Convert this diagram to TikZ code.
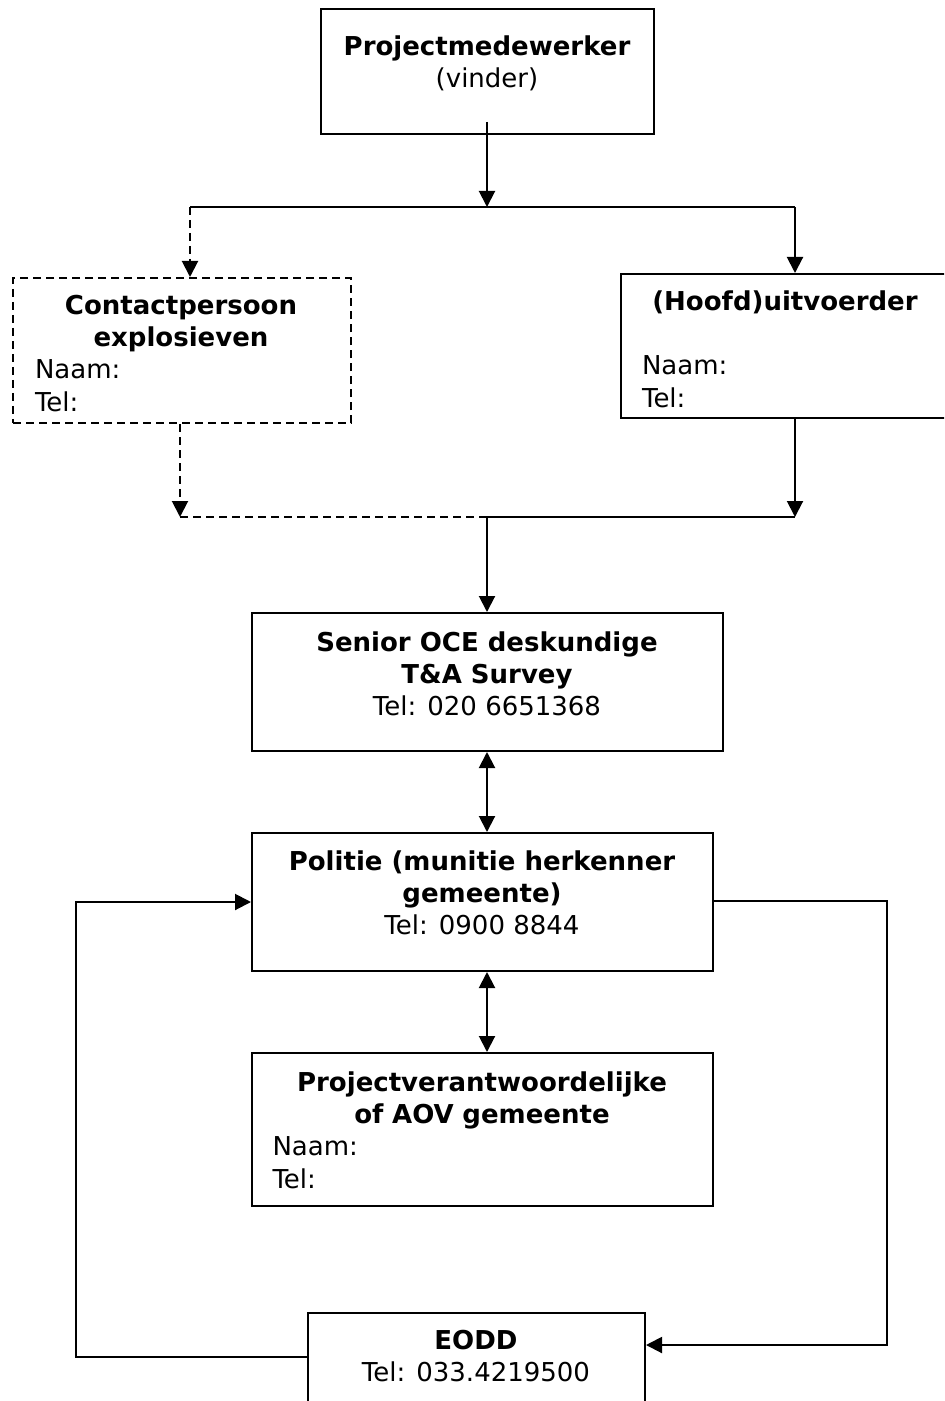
\documentclass[tikz,border=0pt]{standalone}
\usepackage{fontspec}
\setmainfont{DejaVu Sans}
\usetikzlibrary{arrows.meta}
\setlength{\parindent}{0pt}

\tikzset{
  box/.style={draw, line width=1pt, anchor=north west, inner sep=0pt},
  dashbox/.style={box, dash pattern=on 4pt off 2.5pt},
  txt/.style={anchor=north, inner sep=0pt, align=center,
    font=\fontsize{13}{16.2}\selectfont},
  line/.style={line width=1pt},
  tip/.tip={Triangle[length=8pt,width=8pt]},
  arr/.style={line, -tip},
  dblarr/.style={line, tip-tip},
  dashline/.style={dash pattern=on 4pt off 2.5pt}
}

\begin{document}
\begin{tikzpicture}[x=0.5pt, y=-0.5pt]
  \clip (0,0) rectangle (944,1401);
  \fill[white] (0,0) rectangle (944,1401);

  % boxes
  \node[box, minimum width=166.5pt, minimum height=62.5pt] (pm) at (320,8) {};
  \node[txt] (pm-t) at (487,32) {\strut\textbf{Projectmedewerker}\\(vinder)};

  \node[dashbox, minimum width=169pt, minimum height=72.5pt] (cp) at (12,277) {};
  \node[txt, text width=146pt, align=left] (cp-t) at (181,291)
    {{\centering\bfseries\strut Contactpersoon\\explosieven\par}Naam:\\Tel:};

  \node[box, minimum width=165pt, minimum height=72pt] (uv) at (620,273) {};
  \node[txt, text width=143pt, align=left] (uv-t) at (785,287)
    {{\centering\bfseries\strut (Hoofd)uitvoerder\par}\strut\par Naam:\\Tel:};

  \node[box, minimum width=235.5pt, minimum height=69pt] (oce) at (251,612) {};
  \node[txt] (oce-t) at (487,628)
    {\strut\textbf{Senior OCE deskundige}\\\textbf{T\&A Survey}\\Tel: 020 6651368};

  \node[box, minimum width=230.5pt, minimum height=69pt] (pol) at (251,832) {};
  \node[txt] (pol-t) at (482,847)
    {\strut\textbf{Politie (munitie herkenner}\\\textbf{gemeente)}\\Tel: 0900 8844};

  \node[box, minimum width=230.5pt, minimum height=76.5pt] (pv) at (251,1052) {};
  \node[txt, text width=209.5pt, align=left] (pv-t) at (482,1068)
    {{\centering\bfseries\strut Projectverantwoordelijke\\of AOV gemeente\par}Naam:\\Tel:};

  \node[box, minimum width=168.5pt, minimum height=60pt] (eodd) at (307,1312) {};
  \node[txt] (eodd-t) at (476,1326) {\strut\textbf{EODD}\\Tel: 033.4219500};

  % junctions
  \coordinate (split) at (487,207);
  \coordinate (split-l) at (190,207);
  \coordinate (split-r) at (795,207);
  \coordinate (merge) at (487,517);
  \coordinate (merge-l) at (180,517);
  \coordinate (merge-r) at (795,517);
  \coordinate (loop-l) at (76,902);
  \coordinate (loop-r) at (887,901);

  % connectors
  \draw[arr] ([yshift=6.5pt]pm.south -| split) -- (split);
  \draw[line] (split-l) -- (split-r);
  \draw[arr, dashline] (split-l) -- (cp.north -| split-l);
  \draw[arr] (split-r) -- (uv.north -| split-r);
  \draw[arr, dashline] (cp.south -| merge-l) -- (merge-l);
  \draw[arr] (uv.south -| merge-r) -- (merge-r);
  \draw[line, dashline] (merge-l) -- (merge);
  \draw[line] (merge) -- (merge-r);
  \draw[arr] (merge) -- (oce.north -| merge);
  \draw[dblarr] (oce.south -| merge) -- (pol.north -| merge);
  \draw[dblarr] (pol.south -| merge) -- (pv.north -| merge);
  \draw[arr] (eodd.west |- 0,1357) -| (loop-l) -- (pol.west |- loop-l);
  \draw[arr] (pol.east |- loop-r) -- (loop-r) |- (eodd.east |- 0,1345);
\end{tikzpicture}
\end{document}
